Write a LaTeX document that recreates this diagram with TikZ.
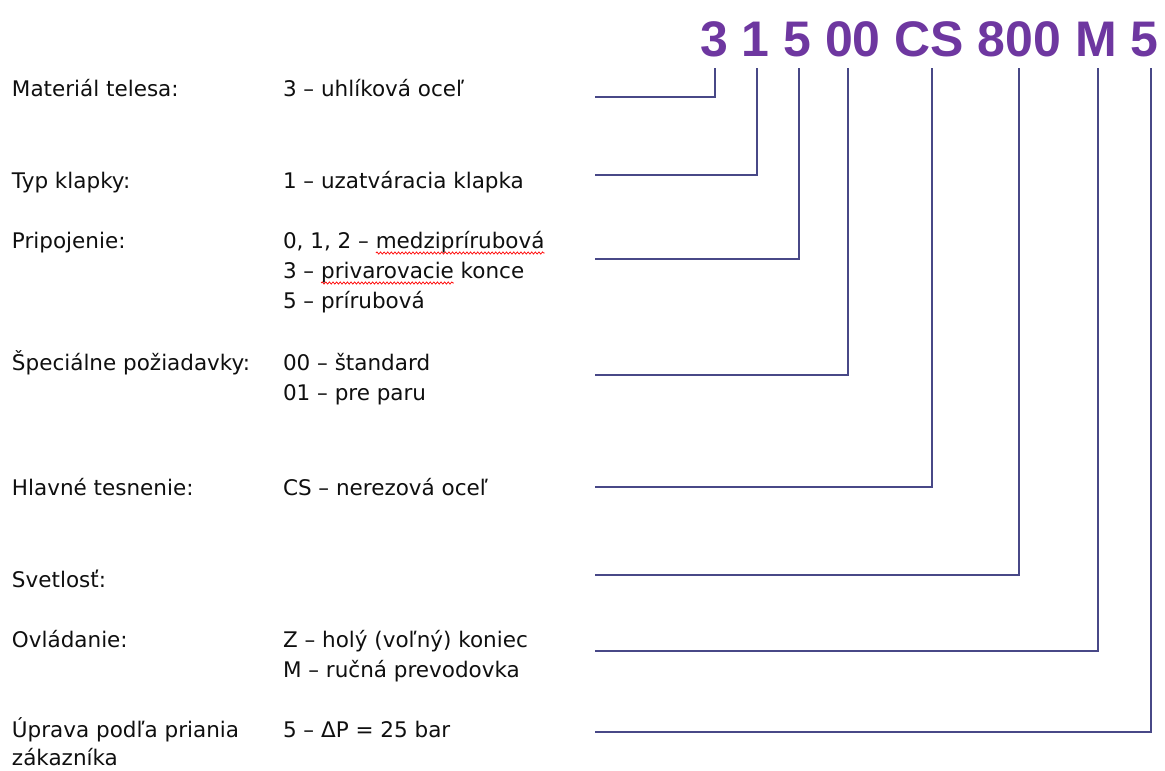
\documentclass[tikz,border=0pt]{standalone}
\usepackage{fontspec}
\setmainfont{DejaVu Sans}
\newfontfamily\codefont{Liberation Sans}
\usetikzlibrary{decorations.pathmorphing}

\definecolor{codepurple}{RGB}{110,55,160}
\definecolor{leader}{RGB}{72,72,135}
\definecolor{ink}{RGB}{15,15,15}

\begin{document}
\begin{tikzpicture}[x=1pt,y=-1pt,
  txt/.style={anchor=base west, inner sep=0pt, outer sep=0pt, text=ink,
              font=\fontsize{21.5}{30}\selectfont},
  codepart/.style={anchor=base west, inner sep=0pt, outer sep=0pt, text=codepurple,
              font=\codefont\bfseries\fontsize{50}{60}\selectfont},
  leaderline/.style={draw=leader, line width=2pt},
  spell/.style={draw=red, line width=0.7pt, decorate,
              decoration={snake, amplitude=1.1pt, segment length=3.6pt}}]
\useasboundingbox (0,0) rectangle (1165,771);

% ---- type code ----
\node[codepart] (c1) at (700,56)    {3};
\node[codepart] (c2) at (741.7,56)  {1};
\node[codepart] (c3) at (783.4,56)  {5};
\node[codepart] (c4) at (825.1,56)  {00};
\node[codepart] (c5) at (894.6,56)  {CS};
\node[codepart] (c6) at (977.9,56)  {800};
\node[codepart] (c7) at (1075.2,56) {M};
\node[codepart] (c8) at (1130.8,56) {5};

% ---- labels ----
\node[txt] (l1) at (12,96)  {Materiál telesa:};
\node[txt] (l2) at (12,188) {Typ klapky:};
\node[txt] (l3) at (12,248) {Pripojenie:};
\node[txt] (l4) at (12,370) {Špeciálne požiadavky:};
\node[txt] (l5) at (12,495) {Hlavné tesnenie:};
\node[txt] (l6) at (12,587) {Svetlosť:};
\node[txt] (l7) at (12,647) {Ovládanie:};
\node[txt] (l8a) at (12,737) {Úprava podľa priania};
\node[txt] (l8b) at (12,765) {zákazníka};

% ---- values ----
\node[txt] (v1) at (283,96)  {3 – uhlíková oceľ};
\node[txt] (v2) at (283,188) {1 – uzatváracia klapka};
\node[txt] (v3a) at (283,248) {0, 1, 2 –};
\node[txt] (w3a) at ([xshift=6.84pt]v3a.base east) {medziprírubová};
\node[txt] (v3b) at (283,278) {3 –};
\node[txt] (w3b) at ([xshift=6.84pt]v3b.base east) {privarovacie};
\node[txt] (k3b) at ([xshift=6.84pt]w3b.base east) {konce};
\node[txt] (v3c) at (283,308) {5 – prírubová};
\node[txt] (v4a) at (283,370) {00 – štandard};
\node[txt] (v4b) at (283,400) {01 – pre paru};
\node[txt] (v5) at (283,495) {CS – nerezová oceľ};
\node[txt] (v7a) at (283,647) {Z – holý (voľný) koniec};
\node[txt] (v7b) at (283,677) {M – ručná prevodovka};
\node[txt] (v8) at (283,737) {5 – ΔP = 25 bar};

% spell-check marks
\draw[spell] ([yshift=-5pt]w3a.base west) -- ([yshift=-5pt]w3a.base east);
\draw[spell] ([yshift=-5pt]w3b.base west) -- ([yshift=-5pt]w3b.base east);

% ---- leader lines ----
\coordinate (e1) at (595,97);   \coordinate (t1) at (715,68);
\coordinate (e2) at (595,175);  \coordinate (t2) at (757,68);
\coordinate (e3) at (595,259);  \coordinate (t3) at (799,68);
\coordinate (e4) at (595,375);  \coordinate (t4) at (848,68);
\coordinate (e5) at (595,487);  \coordinate (t5) at (932,68);
\coordinate (e6) at (595,575);  \coordinate (t6) at (1019,68);
\coordinate (e7) at (595,651);  \coordinate (t7) at (1098,68);
\coordinate (e8) at (595,732);  \coordinate (t8) at (1151,68);

\draw[leaderline] (e1) -| (t1);
\draw[leaderline] (e2) -| (t2);
\draw[leaderline] (e3) -| (t3);
\draw[leaderline] (e4) -| (t4);
\draw[leaderline] (e5) -| (t5);
\draw[leaderline] (e6) -| (t6);
\draw[leaderline] (e7) -| (t7);
\draw[leaderline] (e8) -| (t8);
\end{tikzpicture}
\end{document}
